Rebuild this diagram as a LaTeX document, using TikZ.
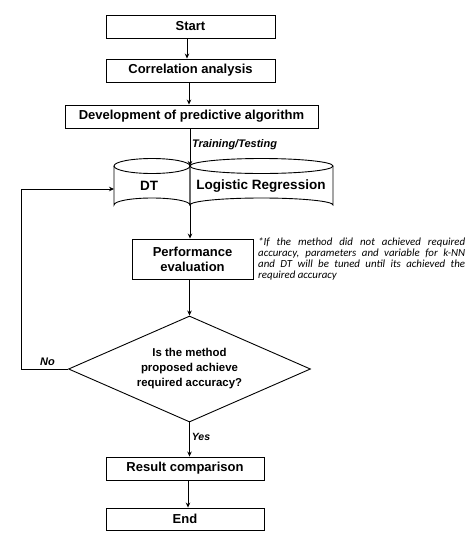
\documentclass[tikz,border=0pt]{standalone}
\usepackage{fontspec}
\setmainfont{Liberation Sans}
\newfontfamily\notefont{Carlito}
\usetikzlibrary{shapes.geometric,arrows.meta}
\tikzset{
  box/.style={draw, line width=0.9pt, rectangle, inner sep=0pt, font=\fontsize{13}{15}\selectfont\bfseries},
  arr/.style={line width=0.8pt, -{Stealth[length=5pt,width=4.5pt]}},
  ln/.style={line width=0.8pt},
  cyl/.style={draw, line width=0.9pt},
  lbl/.style={inner sep=0pt, font=\fontsize{11}{13}\selectfont\bfseries\itshape},
}
\begin{document}
\begin{tikzpicture}[x=1pt,y=-1pt]
\useasboundingbox (0,0) rectangle (474,539);
% boxes
\node[box, minimum width=169pt, minimum height=23pt] (start) at (190.5,26.5) {Start};
\node[box, minimum width=169pt, minimum height=23pt] (corr) at (190.5,70.5) {Correlation analysis};
\node[box, minimum width=253pt, minimum height=23pt] (dev) at (191.5,116.5) {Development of predictive algorithm};
% cylinders
\draw[cyl] (114,166) -- (114,205) arc[start angle=180,end angle=360,x radius=38,y radius=7] -- (190,166);
\draw[cyl] (152,166) ellipse[x radius=38,y radius=7.5];
\draw[cyl] (190,166) -- (190,205) arc[start angle=180,end angle=360,x radius=71.5,y radius=7] -- (333,166);
\draw[cyl] (261.5,166) ellipse[x radius=71.5,y radius=7.5];
\node[inner sep=0pt, font=\fontsize{13.5}{15}\selectfont\bfseries] (dt) at (149,186) {DT};
\node[inner sep=0pt, font=\fontsize{13.5}{15}\selectfont\bfseries] (lr) at (261,186) {Logistic Regression};
\coordinate (jt) at (190,166);
\coordinate (jb) at (190,205);
\coordinate (dtin) at (114,189);
% performance
\node[box, minimum width=121pt, minimum height=40pt, align=center] (perf) at (192.5,259) {Performance\\evaluation};
\node[anchor=north west, inner sep=0pt, text width=207pt, align=justify,
      font=\notefont\itshape\fontsize{10.9}{10.7}\selectfont] (note) at (258,238)
  {\hyphenpenalty=10000 *If the method did not achieved required\linebreak accuracy, parameters and variable for k-NN\linebreak and DT will be tuned until its achieved the\linebreak required accuracy};
% decision
\node[draw, line width=0.9pt, diamond, minimum width=242pt, minimum height=106pt, aspect=2.28, inner sep=0pt,
      align=center, font=\fontsize{11.4}{15}\selectfont\bfseries] (dia) at (189.5,369)
  {Is the method\\proposed achieve\\required accuracy?};
\coordinate (fb) at (21,369);
% result, end
\node[box, minimum width=158pt, minimum height=23pt] (res) at (185,468.5) {Result comparison};
\node[box, minimum width=158pt, minimum height=22pt] (end) at (185,519) {End};
% labels
\node[lbl] (tt) at (234.5,145) {Training/Testing};
\node[lbl] (no) at (47.5,362) {No};
\node[lbl, font=\fontsize{10.5}{12}\selectfont\bfseries\itshape] (yes) at (201,437) {Yes};
% connectors
\draw[arr] ([xshift=-3.5pt]start.south) -- ([xshift=-3.5pt]start.south |- corr.north);
\draw[arr] ([xshift=-1.5pt]corr.south) -- ([xshift=-1.5pt]corr.south |- dev.north);
\draw[arr] (dev.south -| jt) -- (jt);
\draw[arr] (jb) -- (jb |- perf.north);
\draw[arr] (perf.south -| dia.north) -- (dia.north);
\draw[arr] (dia.south) -- (dia.south |- res.north);
\draw[arr] ([xshift=3pt]res.south) -- ([xshift=3pt]end.north);
\draw[arr] (dia.west) -- (fb) |- (dtin);
\end{tikzpicture}
\end{document}
